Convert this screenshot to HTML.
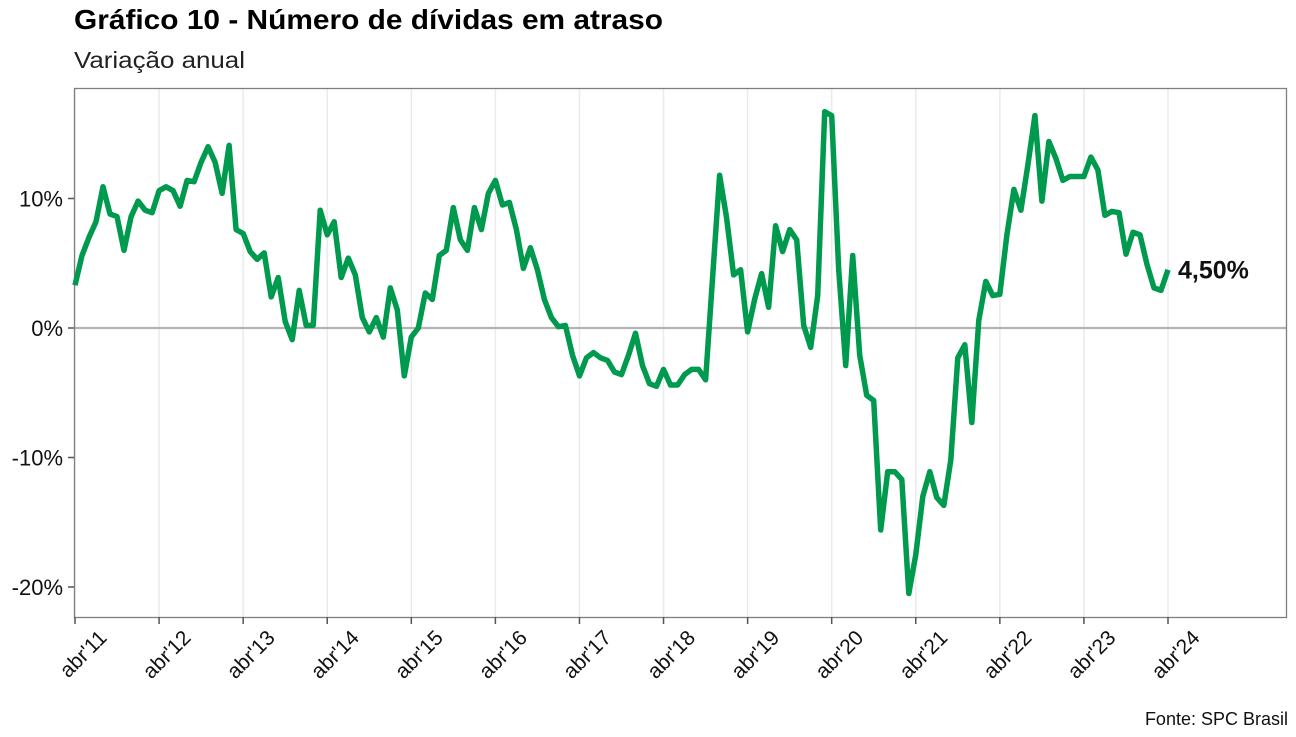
<!DOCTYPE html>
<html><head><meta charset="utf-8">
<style>
body{margin:0;background:#fff;font-family:"Liberation Sans",sans-serif;}
</style></head>
<body>
<svg width="1296" height="732" xmlns="http://www.w3.org/2000/svg" font-family="Liberation Sans, sans-serif">
<text x="74" y="29" font-size="28" font-weight="bold" fill="#000" textLength="589" lengthAdjust="spacingAndGlyphs">Gráfico 10 - Número de dívidas em atraso</text>
<text x="74" y="68" font-size="23" fill="#222" textLength="171" lengthAdjust="spacingAndGlyphs">Variação anual</text>
<g id="grid"></g>
<rect x="74.5" y="88.5" width="1212" height="529" fill="none" stroke="#7f7f7f" stroke-width="1.3"/>
<g id="yaxis"></g>
<g id="xaxis"></g>
<path id="line" fill="none" stroke="#009a4e" stroke-width="5.5" stroke-linejoin="round"/>
<text id="lastlbl" font-size="25" font-weight="bold" fill="#111"></text>
<text x="1288" y="725" font-size="18" text-anchor="end" fill="#111">Fonte: SPC Brasil</text>
</svg>
<script>
const yearLabels=["abr'11","abr'12","abr'13","abr'14","abr'15","abr'16","abr'17","abr'18","abr'19","abr'20","abr'21","abr'22","abr'23","abr'24"];
const yTicks=[-20,-10,0,10];
const yTickLabels=["-20%","-10%","0%","10%"];
const values=[
3.3,5.6,7,8.2,10.9,8.8,8.6,6,8.6,9.8,9.1,8.9,
10.6,10.9,10.6,9.4,11.4,11.3,12.8,14,12.8,10.4,14.1,7.6,
7.3,5.9,5.3,5.8,2.4,3.9,0.5,-0.9,2.9,0.2,0.2,9.1,
7.2,8.2,3.9,5.4,4.1,0.8,-0.3,0.8,-0.7,3.1,1.4,-3.7,
-0.7,0,2.7,2.2,5.6,6,9.3,6.8,6,9.3,7.6,10.4,
11.4,9.5,9.7,7.6,4.6,6.2,4.5,2.2,0.8,0.1,0.2,-2.1,
-3.7,-2.3,-1.9,-2.3,-2.5,-3.4,-3.6,-2.1,-0.4,-2.9,-4.3,-4.5,
-3.2,-4.4,-4.4,-3.6,-3.2,-3.2,-4,3.9,11.8,8.5,4.1,4.5,-0.3,
2.2,4.2,1.6,7.9,5.9,7.6,6.8,0.2,-1.5,2.5,16.7,16.4,
4.5,-2.9,5.6,-2.1,-5.2,-5.6,-15.6,-11.1,-11.1,-11.7,-20.5,-17.5,
-13,-11.1,-13.1,-13.7,-10.2,-2.3,-1.3,-7.3,0.6,3.6,2.5,2.6,
7.2,10.7,9.1,12.6,16.4,9.8,14.4,13.1,11.4,11.7,11.7,11.7,
13.2,12.2,8.7,9,8.9,5.7,7.4,7.2,4.9,3.1,2.9,4.5];
const lastLabel="4,50%";
const NS="http://www.w3.org/2000/svg";
const x0=75, dx=(1168-75)/156;
const X=i=>x0+i*dx;
const Y=v=>328-v*12.95;
const grid=document.getElementById('grid'),ya=document.getElementById('yaxis'),xa=document.getElementById('xaxis');
yearLabels.forEach((l,k)=>{
  const x=X(k*12);
  const g=document.createElementNS(NS,'line');
  
  
  g.setAttribute('x1',x);g.setAttribute('x2',x);g.setAttribute('y1',89);g.setAttribute('y2',617);
  g.setAttribute('stroke','#ebebeb');g.setAttribute('stroke-width','1.5');grid.appendChild(g);
  const t=document.createElementNS(NS,'line');
  
  
  t.setAttribute('x1',x);t.setAttribute('x2',x);t.setAttribute('y1',617);t.setAttribute('y2',624);
  t.setAttribute('stroke','#555');t.setAttribute('stroke-width','1.5');xa.appendChild(t);
  const tx=document.createElementNS(NS,'text');
  
  
  tx.setAttribute('text-anchor','end');tx.setAttribute('font-size','21');tx.setAttribute('fill','#111');
  tx.setAttribute('transform',`translate(${x+33},${639}) rotate(-45)`);
  tx.textContent=l;xa.appendChild(tx);
});
yTicks.forEach((v,k)=>{
  const y=Y(v);
  if(v===0){
    const z=document.createElementNS(NS,'line');
    
    
    z.setAttribute('x1',75);z.setAttribute('x2',1286);z.setAttribute('y1',y);z.setAttribute('y2',y);
    z.setAttribute('stroke','#b3b3b3');z.setAttribute('stroke-width','2.2');grid.appendChild(z);
  }
  const t=document.createElementNS(NS,'line');
  
  
  t.setAttribute('x1',68);t.setAttribute('x2',74);t.setAttribute('y1',y);t.setAttribute('y2',y);
  t.setAttribute('stroke','#555');t.setAttribute('stroke-width','1.5');ya.appendChild(t);
  const tx=document.createElementNS(NS,'text');
  
  
  tx.setAttribute('x',63);tx.setAttribute('y',y+8);tx.setAttribute('text-anchor','end');
  tx.setAttribute('font-size','22');tx.setAttribute('fill','#111');
  tx.textContent=yTickLabels[k];ya.appendChild(tx);
});
document.getElementById('line').setAttribute('d',values.map((v,i)=>(i?'L':'M')+X(i).toFixed(1)+','+Y(v).toFixed(1)).join(' '));
const n=values.length-1,ll=document.getElementById('lastlbl');
ll.setAttribute('x',X(n)+10);ll.setAttribute('y',Y(values[n])+9);ll.textContent=lastLabel;
</script>
</body></html>
